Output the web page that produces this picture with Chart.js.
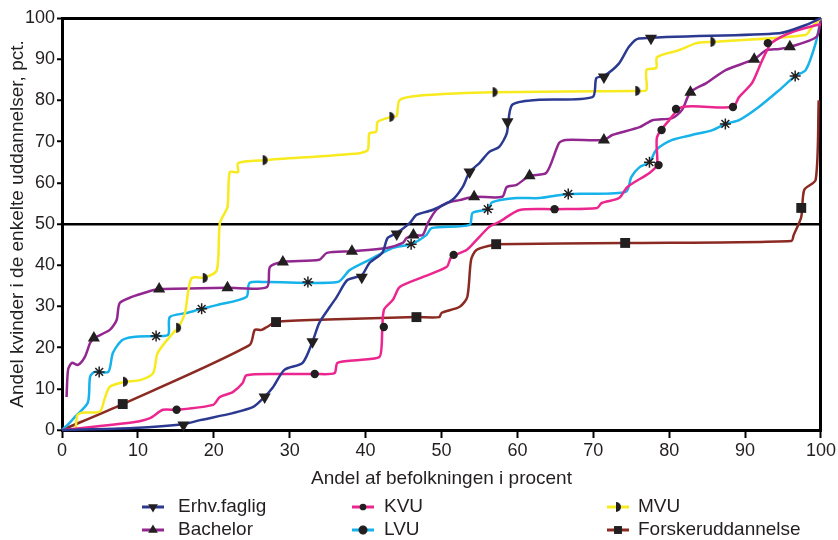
<!doctype html>
<html>
<head>
  <meta charset="utf-8" />
  <title>Andel kvinder</title>
  <script src="https://cdn.jsdelivr.net/npm/chart.js"></script>
  <style>
    body { margin: 0; background: #fff; }
    canvas { display: block; }
  </style>
</head>
<body>
  <canvas id="chart" width="838" height="540"></canvas>

  <script>
    // x = andel af befolkningen, y = andel kvinder (pct.)
    const erhvLine = [[0,0],[9.4,0.5],[16,1.4],[18.2,2.4],[22.5,4.1],[25.2,5.6],[26.5,7.7],[27.8,10.4],[29.3,14.6],[31.7,16.3],[33,21.4],[33.9,26],[35.3,29.9],[36.2,32.3],[37.6,36.4],[39.5,37.6],[40.5,40.5],[42.2,43],[42.9,46.6],[44.1,47.8],[45.8,50.2],[46.7,52.2],[48.8,53.4],[51.4,55.8],[52.8,59],[53.7,62.6],[55,64.8],[56.3,67.5],[57.6,68.7],[58.6,72],[59.3,78.9],[62.5,80.1],[69.9,80.8],[70.4,85.4],[71.4,85.9],[73.4,89],[74.7,93],[76,95],[94.5,96.3],[98,98.3],[100,100]];
    const erhvMarks = [[16,1.2],[26.7,8],[33,21.4],[39.5,37.1],[44.1,47.6],[53.7,62.6],[58.7,74.8],[71.4,85.7],[77.6,95.1]];

    const kvuLine = [[0,0],[9.4,1.9],[11.6,2.9],[13.3,4.9],[15.1,4.9],[19.9,6.1],[20.8,8],[22.5,9.2],[23.8,11.4],[24.3,13.3],[28.7,13.6],[33.3,13.6],[35.9,13.8],[36.3,16.3],[39.2,17],[41.8,17.7],[42.1,20.1],[42.4,29.1],[43.6,31.6],[44.5,34.7],[47.5,37.1],[50.7,39.6],[51.3,42],[53.3,43.7],[54.6,46.1],[56.3,49.3],[57.6,50.5],[60.3,53.4],[64.9,53.6],[70.5,53.9],[71.1,55.1],[73.4,56.3],[74.5,59],[77.4,62.4],[78.4,64.3],[78.4,71.1],[80,75.2],[81.7,78.4],[88.4,78.4],[89.2,80.8],[90.9,84.2],[92.1,89.1],[92.9,92.2],[93.5,94],[96.2,96.6],[99.5,98.3],[100,98.5]];
    const kvuMarks = [[15.1,4.9],[33.3,13.6],[42.4,25],[51.6,42.5],[64.9,53.6],[78.6,64.3],[79,72.8],[80.9,77.9],[88.4,78.4],[93,93.9]];

    const mvuLine = [[1.8,0],[2,3.5],[2.6,4.2],[5,4.5],[5.6,7.5],[6.3,10.5],[8.3,11.7],[10.3,12.1],[12,13.8],[12.6,18.7],[14.6,23.5],[15.3,24.8],[16.2,28.4],[16.6,33.3],[17.1,36.9],[18.8,37],[20.4,38.8],[20.8,50.2],[21.8,54.1],[22.1,62.6],[23.2,62.6],[23.2,64.8],[26.7,65.5],[39.2,67.2],[40.3,68],[40.5,72],[41.4,72.4],[41.6,74.8],[43.4,76],[44.1,76.2],[44.5,80.1],[48,81.3],[57,82],[75.8,82.3],[77,82.5],[77,87.4],[78.3,87.9],[78.4,90.5],[81.3,92.2],[83.6,93.9],[85.7,94.2],[98,95.9],[98.8,97.8],[100,100]];
    const mvuMarks = [[8.3,11.7],[15.3,24.8],[18.8,36.9],[26.7,65.5],[43.4,76],[57,82],[75.8,82.3],[85.7,94.2]];

    const bachLine = [[0.6,8],[0.8,14.6],[1.3,16.3],[2.1,15.8],[3,17.7],[3.7,21.1],[4.2,22.3],[6.3,24.3],[7.2,26.7],[7.6,30.8],[9.2,32.3],[11.2,33.5],[12.8,34.2],[18.2,34.4],[21.8,34.5],[27,34.7],[27.4,39.6],[29.1,40.8],[33.9,41.3],[34.9,43],[38.2,43.4],[42.8,44.2],[44.9,45.4],[45.4,46.6],[46.3,47.3],[47.5,47.3],[48.2,50.2],[49.3,53.4],[50.7,55.1],[52.4,55.8],[54.3,56.6],[58,56.6],[58.6,59],[59.9,59.5],[61.6,61.7],[63.8,62.4],[65.5,69.7],[66.4,70.4],[71.4,70.4],[72.5,71.6],[76.1,73.5],[77.8,75.2],[80.4,75.7],[81.7,77.7],[82.8,82],[84.9,84.2],[87.5,87.4],[91.2,90],[92.8,92.2],[94.5,92.5],[95.9,93],[99.4,95.4],[100,100]];
    const bachMarks = [[4.2,22.3],[12.8,34.2],[21.8,34.5],[29.1,40.8],[38.2,43.4],[46.3,47.3],[54.3,56.6],[61.6,61.7],[71.4,70.4],[82.8,82],[91.2,90],[95.9,93]];

    const lvuLine = [[0,0],[1,1.7],[1.7,3.2],[3.4,6.6],[3.7,12.9],[4.3,14.1],[6.1,14.1],[6.7,18.7],[7.9,21.8],[9.4,22.6],[12.4,22.8],[14,23.1],[14.2,27.4],[16.4,28.4],[18.4,29.4],[20.4,30.3],[24.3,32.3],[24.7,35.7],[27,35.9],[36.3,35.9],[37.9,38.8],[40.5,41.3],[43.6,44.2],[46,45.1],[48,47.3],[48.7,49],[53.7,49.8],[54.1,52.7],[56.1,53.6],[56.7,55.3],[59.9,56.3],[62.9,56.3],[66.7,57.3],[74.3,57.8],[75,61.4],[76.1,63.8],[77.4,65],[78.3,68],[80.4,70.4],[83,71.6],[85.7,72.8],[87.4,74.3],[89.2,75.2],[91.8,78.4],[94.5,82.5],[96.6,85.9],[98,87.4],[99.3,93.9],[100,100]];
    const lvuMarks = [[4.9,14.1],[12.4,22.8],[18.4,29.4],[32.4,35.9],[46,45.1],[56.1,53.6],[66.7,57.3],[77.4,65],[87.4,74.3],[96.6,85.9]];

    const forskLine = [[0,0],[8,6.3],[24.7,20.6],[25.4,24.3],[26.3,24.3],[27,25],[28.2,26.2],[35,26.8],[46.7,27.4],[49.7,27.4],[50,28.4],[52.4,29.9],[53.4,32.3],[53.9,41.3],[54.6,43.7],[56.7,44.9],[57.2,45.1],[74.2,45.4],[96.1,45.9],[96.4,47.3],[97.4,51.7],[97.8,58.3],[99.3,60.7],[99.7,80]];
    const forskMarks = [[8,6.3],[28.2,26.2],[46.7,27.4],[57.2,45.1],[74.2,45.4],[97.4,53.9]];

    const xTicks = [0,10,20,30,40,50,60,70,80,90,100];
    const yTicks = [0,10,20,30,40,50,60,70,80,90,100];

    const ink = "#231f20";
    const font = "'Liberation Sans', Arial, sans-serif";

    // half disc marker for MVU
    function halfDisc() {
      const c = document.createElement("canvas");
      c.width = 12; c.height = 12;
      const g = c.getContext("2d");
      g.fillStyle = ink;
      g.beginPath();
      g.moveTo(4, 1);
      g.arc(4, 6, 5, -Math.PI / 2, Math.PI / 2);
      g.closePath();
      g.fill();
      return c;
    }

    const series = [
      { name: "Erhv.faglig", color: "#2b3990", line: erhvLine, marks: erhvMarks, style: "triangle", rot: 180, r: 7 },
      { name: "KVU", color: "#ec268f", line: kvuLine, marks: kvuMarks, style: "circle", rot: 0, r: 4.2 },
      { name: "MVU", color: "#f7ea1f", line: mvuLine, marks: mvuMarks, style: halfDisc(), rot: 0, r: 6 },
      { name: "Bachelor", color: "#92278f", line: bachLine, marks: bachMarks, style: "triangle", rot: 0, r: 7 },
      { name: "LVU", color: "#16b2ea", line: lvuLine, marks: lvuMarks, style: "star", rot: 0, r: 5.5 },
      { name: "Forskeruddannelse", color: "#8b2a22", line: forskLine, marks: forskMarks, style: "rect", rot: 0, r: 7 }
    ];

    const toPts = arr => arr.map(p => ({ x: p[0], y: p[1] }));

    const datasets = [];
    series.forEach(s => {
      datasets.push({
        data: toPts(s.line), showLine: true, borderColor: s.color, borderWidth: 2.5,
        pointRadius: 0, tension: 0.25, clip: 6, order: 2
      });
    });
    series.forEach(s => {
      datasets.push({
        data: toPts(s.marks), showLine: false, pointStyle: s.style, rotation: s.rot,
        pointRadius: s.r, backgroundColor: ink, borderColor: ink,
        borderWidth: s.style === "star" ? 1.5 : 0, clip: 8, order: 1
      });
    });

    const legendPlugin = {
      id: "bottomLegend",
      afterDraw(chart) {
        const ctx = chart.ctx;
        const cols = [[142, 178], [352, 384], [607, 638]];
        const rows = [507, 530];
        const order = [0, 1, 2, 3, 4, 5];
        ctx.save();
        order.forEach((i, k) => {
          const s = series[i];
          const [lx, tx] = cols[k % 3];
          const y = rows[Math.floor(k / 3)];
          ctx.strokeStyle = s.color;
          ctx.lineWidth = 3;
          ctx.beginPath();
          ctx.moveTo(lx, y); ctx.lineTo(lx + 22, y);
          ctx.stroke();
          ctx.fillStyle = ink; ctx.strokeStyle = ink;
          Chart.helpers.drawPoint(ctx, {
            pointStyle: s.style, rotation: s.rot, radius: s.r * 0.8,
            borderWidth: s.style === "star" ? 1.3 : 0
          }, lx + 11, y);
          ctx.fillStyle = ink;
          ctx.font = "19px " + font;
          ctx.textBaseline = "middle";
          ctx.textAlign = "left";
          ctx.fillText(s.name, tx, y);
        });
        ctx.restore();
      }
    };

    const edge = (v, mid) => v === 100 || v === mid;

    new Chart(document.getElementById("chart"), {
      type: "scatter",
      data: { datasets },
      plugins: [legendPlugin],
      options: {
        responsive: false,
        animation: false,
        layout: { padding: { left: 0, right: 16, top: 18, bottom: 48 } },
        plugins: { legend: { display: false }, tooltip: { enabled: false } },
        scales: {
          x: {
            type: "linear", min: 0, max: 100,
            afterBuildTicks: s => { s.ticks = xTicks.map(v => ({ value: v })); },
            afterFit: s => { s.height = 62; },
            ticks: { color: ink, font: { family: font, size: 18 }, padding: 2, maxRotation: 0 },
            grid: {
              color: c => (c.tick && c.tick.value === 100 ? "#000" : "rgba(0,0,0,0)"),
              lineWidth: 3, tickColor: "#000", tickWidth: 2, tickLength: 8
            },
            border: { color: "#000", width: 3 },
            title: {
              display: true, text: "Andel af befolkningen i procent", color: ink,
              font: { family: font, size: 19 }, padding: { top: 0, bottom: 2 }
            }
          },
          y: {
            type: "linear", min: 0, max: 100,
            afterBuildTicks: s => { s.ticks = yTicks.map(v => ({ value: v })); },
            afterFit: s => { s.width = 62; },
            ticks: { color: ink, font: { family: font, size: 18 }, padding: 2 },
            grid: {
              color: c => (c.tick && edge(c.tick.value, 50) ? "#000" : "rgba(0,0,0,0)"),
              lineWidth: c => (c.tick && c.tick.value === 100 ? 3 : 2.5),
              tickColor: "#000", tickWidth: 2, tickLength: 5
            },
            border: { color: "#000", width: 3 },
            title: {
              display: true, text: "Andel kvinder i de enkelte uddannelser, pct.", color: ink,
              font: { family: font, size: 19 }, padding: { top: 6, bottom: 0 }
            }
          }
        }
      }
    });
  </script>
</body>
</html>
